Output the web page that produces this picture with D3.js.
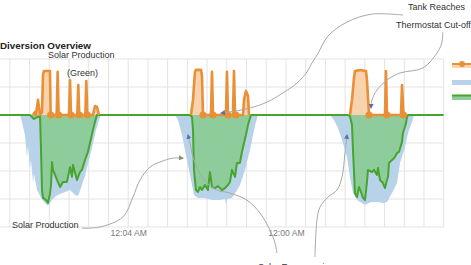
<!DOCTYPE html>
<html lang="en">
<head>
<meta charset="UTF-8">
<title>Diversion Overview</title>
<script src="https://d3js.org/d3.v7.min.js"></script>
<style>
  body { margin: 0; padding: 0; overflow: hidden; background: #fff; }
  text { font-family: "Liberation Sans", Arial, sans-serif; }
</style>
</head>
<body>
<svg id="chart" width="471" height="265"></svg>
<script>
// Data: [hours from first midnight, kW]  (negative = solar production)
const tickHours = [0, 24];
const tickLabels = ["12:04 AM", "12:00 AM"];
const gridHours = d3.range(-18, 49, 3);
const gridValues = [-4, -3, -2, -1, 0, 1, 2];

const blue = [
  [-19.5,0],[-16.46,0],[-16.16,-0.25],[-15.7,-0.71],[-15.4,-1.5],[-15.24,-1.1],[-14.94,-1.9],[-14.79,-1.6],
  [-14.48,-2.4],[-14.33,-2.1],[-13.87,-2.68],[-13.41,-2.89],[-12.81,-3.11],[-12.2,-3.25],[-11.59,-3.04],
  [-10.98,-2.89],[-10.37,-2.82],[-9.61,-2.75],[-8.85,-2.68],[-8.09,-2.86],[-7.63,-2.89],[-7.18,-2.61],
  [-6.57,-2.18],[-6.12,-1.75],[-5.51,-1.18],[-4.9,-0.54],[-4.44,-0.18],[-4.14,0],
  [7.12,0],[7.58,-0.18],[8.19,-0.71],[8.64,-1.25],[9.1,-1.79],[9.55,-2.32],[10.01,-2.86],[10.62,-2.96],
  [11.68,-2.96],[12.75,-3.04],[13.97,-3.04],[14.73,-3.0],[14.88,-3.21],[15.03,-3.0],[15.79,-2.96],
  [16.4,-2.75],[17.0,-2.5],[17.77,-1.96],[18.53,-1.25],[18.99,-0.71],[19.44,-0.25],[19.75,0],
  [30.7,0],[31.31,-0.18],[31.92,-0.46],[32.53,-0.89],[32.98,-1.25],[33.29,-1.5],[33.74,-2.21],[34.2,-2.79],
  [34.81,-3.04],[36.03,-3.21],[36.94,-3.11],[37.85,-3.11],[38.76,-3.14],[39.37,-3.11],[40.14,-2.79],
  [40.9,-2.43],[41.36,-1.71],[42.12,-1.14],[42.58,-0.64],[43.18,-0.25],[43.48,0],[48,0]
];

const green = [
  [-19.5,0],[-14.94,0],[-14.33,-0.14],[-13.72,-0.07],[-13.41,-0.04],[-13.26,-1.25],[-13.11,-2.68],
  [-12.96,-2.96],[-12.5,-3.04],[-12.2,-3.14],[-11.9,-2.82],[-11.74,-2.5],[-11.59,-1.68],[-11.44,-1.96],
  [-10.83,-2.32],[-10.37,-2.57],[-9.92,-2.39],[-9.31,-2.39],[-8.85,-1.86],[-8.55,-2.21],[-8.39,-1.79],
  [-7.79,-2.32],[-7.33,-2.04],[-7.03,-1.96],[-6.57,-1.61],[-6.12,-1.32],[-5.81,-1.0],[-5.36,-0.54],
  [-5.05,-0.25],[-4.75,0],
  [9.4,0],[9.71,-0.07],[9.86,-0.54],[10.01,-1.96],[10.31,-2.68],[10.62,-2.75],[10.92,-2.57],[11.23,-2.68],
  [11.68,-2.5],[12.14,-2.68],[12.44,-2.04],[12.75,-2.57],[13.21,-2.61],[13.66,-2.54],[14.27,-2.68],
  [14.73,-2.61],[15.18,-2.5],[15.49,-2.39],[15.79,-1.96],[16.25,-2.21],[16.55,-1.71],[17.0,-1.71],
  [17.31,-1.32],[17.62,-1.0],[17.92,-0.71],[18.23,-0.36],[18.53,-0.11],[18.68,0],
  [33.44,0],[33.74,-0.04],[34.05,-0.36],[34.2,-1.25],[34.5,-2.79],[34.81,-2.93],[35.11,-2.57],[35.42,-2.75],
  [35.72,-2.96],[36.03,-3.04],[36.33,-2.39],[36.48,-1.96],[37.09,-2.04],[37.4,-1.96],[37.85,-2.14],
  [38.0,-1.89],[38.31,-2.32],[38.76,-2.43],[39.07,-2.61],[39.37,-2.32],[39.53,-2.21],[39.68,-1.71],
  [40.14,-1.61],[40.59,-1.5],[40.9,-1.36],[41.2,-1.32],[41.66,-0.96],[41.81,-0.64],[42.27,-0.29],
  [42.42,-0.07],[42.58,0],[48,0]
];

const orangeDay1 = [
  [-14.48,0],[-14.18,0.11],[-14.03,0],[-13.72,0.54],[-13.41,0],[-13.11,0.11],[-12.96,1.43],[-12.81,1.57],
  [-11.9,1.57],[-11.79,0],[-10.88,0],[-10.73,1.54],[-10.58,0],[-9.0,0],[-8.85,1.25],[-8.7,0],
  [-7.74,0],[-7.59,1.07],[-7.44,0],[-6.52,0],[-6.37,1.21],[-6.22,0],[-5.36,0],[-5.05,0.32],
  [-4.75,0.29],[-4.44,0]
];
const orangeDay2 = [
  [9.55,0],[9.86,0.54],[10.16,1.54],[10.31,1.61],[11.08,1.61],[11.23,1.39],[11.38,0],[12.6,0],
  [12.75,1.54],[12.9,0],[14.88,0],[15.03,1.54],[15.18,0],[15.94,0],[16.1,1.57],[16.25,0],[16.37,0],
  [17.47,0],[17.62,0.54],[17.92,0.86],[18.23,0.68],[18.38,0]
];
const orangeDay3 = [
  [33.74,0],[34.05,0.54],[34.35,1.32],[34.5,1.57],[35.27,1.61],[36.18,1.57],[36.33,1.25],[36.64,0],
  [39.07,0],[39.22,1.57],[39.37,0],[41.5,0],[41.66,1.07],[41.88,0]
];
const orangeMarkers = [-11.79, -10.58, -8.7, -7.44, -6.22, 11.38, 12.9, 15.18, 16.37, 36.64, 39.37, 41.88];

// callout notes drawn over the chart (chart units)
const calloutLabels = [
  { text: "Solar Production", h: -12.2, v: 2.04 },
  { text: "(Green)", h: -9.31, v: 1.39 },
  { text: "Solar Production", h: -17.68, v: -4.04 },
  { text: "Tank Reaches", h: 42.57, v: 3.75 },
  { text: "Thermostat Cut-off", h: 40.74, v: 3.11 },
  { text: "Solar Energy going", h: 19.75, v: -5.54 }
];
const calloutLines = [
  { arrow: "g", pts: [[-7.03,-4.04],[-4.29,-4.0],[-0.79,-3.64],[0.73,-2.93],[1.8,-2.32],[3.32,-1.86],[4.84,-1.68],[6.82,-1.54],[8.34,-1.54]] },
  { arrow: "b", pts: [[22.64,-4.93],[22.33,-4.57],[21.57,-4.11],[20.05,-3.5],[18.07,-3.04],[15.49,-2.79],[13.51,-2.68],[11.99,-2.43],[10.62,-1.96],[9.86,-1.5],[9.4,-1.0],[9.1,-0.71]] },
  { arrow: "b", pts: [[28.42,-5.07],[28.72,-3.75],[29.18,-3.29],[30.4,-2.93],[31.77,-2.68],[32.53,-2.21],[32.98,-1.36],[33.29,-0.71]] },
  { arrow: "b", pts: [[41.81,3.57],[37.0,3.6],[33.3,3.32],[30.4,2.82],[28.9,2.21],[27.96,1.86],[27.2,1.54],[25.68,1.14],[23.55,0.79],[21.12,0.46],[18.53,0.25],[16.25,0.14],[14.12,0.07]] },
  { arrow: "b", pts: [[47.86,2.96],[47.7,2.57],[46.97,2.21],[44.84,1.68],[41.35,1.5],[39.37,1.25],[37.85,0.89],[37.09,0.54],[36.94,0.25]] }
];

// Colours
const cOrange = "#e98f36", cOrangeFill = "#f9d2ae";
const cBlueFill = "#b8d3e9";
const cGreen = "#47a42c", cGreenFill = "#8fcc9c";

const svg = d3.select("#chart");
const x = d3.scaleLinear().domain([-19.5, 48]).range([0, 443.7]);
const y = d3.scaleLinear().domain([-4, 2]).range([227, 59]);

// arrow heads
const defs = svg.append("defs");
[["g", "#7f9470"], ["b", "#5a6ea8"]].forEach(([id, col]) => {
  defs.append("marker")
    .attr("id", "arrow-" + id)
    .attr("viewBox", "0 0 10 10")
    .attr("refX", 8).attr("refY", 5)
    .attr("markerWidth", 5).attr("markerHeight", 5)
    .attr("markerUnits", "userSpaceOnUse")
    .attr("orient", "auto")
    .append("path").attr("d", "M0,0L10,5L0,10Z").attr("fill", col);
});

// grid
const grid = svg.append("g").attr("stroke", "#e3e3e3").attr("stroke-width", 1);
grid.selectAll(".gv").data(gridHours).join("line")
  .attr("x1", d => x(d)).attr("x2", d => x(d))
  .attr("y1", y(2)).attr("y2", y(-4));
grid.selectAll(".gh").data(gridValues).join("line")
  .attr("x1", 0).attr("x2", x(48))
  .attr("y1", d => y(d)).attr("y2", d => y(d));

// x axis labels
const xAxis = d3.axisBottom(x)
  .tickValues(tickHours)
  .tickFormat((d, i) => tickLabels[i])
  .tickSize(0).tickPadding(3);
const ax = svg.append("g").attr("transform", `translate(0,${y(-4)})`).call(xAxis);
ax.select(".domain").remove();
ax.selectAll("text").attr("fill", "#7a7a7a").attr("font-size", 8.6)
  .attr("font-family", "Liberation Sans, Arial, sans-serif");

const area = d3.area().x(d => x(d[0])).y0(y(0)).y1(d => y(d[1]));
const line = d3.line().x(d => x(d[0])).y(d => y(d[1]));

svg.append("path").datum(blue).attr("d", area).attr("fill", cBlueFill);
svg.append("path").datum(green).attr("d", area).attr("fill", cGreenFill);

const orangeDays = [orangeDay1, orangeDay2, orangeDay3];
svg.append("g").selectAll("path").data(orangeDays).join("path")
  .attr("d", area).attr("fill", cOrangeFill);

svg.append("path").datum(green).attr("d", line)
  .attr("fill", "none").attr("stroke", cGreen).attr("stroke-width", 2)
  .attr("stroke-linejoin", "round");

svg.append("g").selectAll("path").data(orangeDays).join("path")
  .attr("d", line).attr("fill", "none").attr("stroke", cOrange)
  .attr("stroke-width", 2.6).attr("stroke-linejoin", "round");

svg.append("g").selectAll("circle").data(orangeMarkers).join("circle")
  .attr("cx", d => x(d)).attr("cy", y(0)).attr("r", 3.6).attr("fill", cOrange);

// legend (cut at right edge)
const lg = svg.append("g").attr("transform", "translate(452,0)");
lg.append("rect").attr("x", 0).attr("y", 63).attr("width", 22).attr("height", 5).attr("fill", cOrangeFill);
lg.append("line").attr("x1", 0).attr("x2", 22).attr("y1", 64).attr("y2", 64).attr("stroke", cOrange).attr("stroke-width", 2);
lg.append("circle").attr("cx", 10).attr("cy", 64).attr("r", 3).attr("fill", cOrange);
lg.append("rect").attr("x", 0).attr("y", 80).attr("width", 22).attr("height", 5).attr("fill", cBlueFill);
lg.append("rect").attr("x", 0).attr("y", 95).attr("width", 22).attr("height", 5).attr("fill", cGreenFill);
lg.append("line").attr("x1", 0).attr("x2", 22).attr("y1", 95.5).attr("y2", 95.5).attr("stroke", cGreen).attr("stroke-width", 2);

// title
svg.append("text").attr("x", 0).attr("y", 49)
  .attr("font-size", 9.8).attr("font-weight", "bold").attr("fill", "#222")
  .text("Diversion Overview");

// callouts
const cline = d3.line().x(d => x(d[0])).y(d => y(d[1])).curve(d3.curveCatmullRom);
svg.append("g").selectAll("path").data(calloutLines).join("path")
  .attr("d", d => cline(d.pts))
  .attr("fill", "none").attr("stroke", "#a8a8a8").attr("stroke-width", 1)
  .attr("marker-end", d => `url(#arrow-${d.arrow})`);

svg.append("g").selectAll("text").data(calloutLabels).join("text")
  .attr("x", d => x(d.h)).attr("y", d => y(d.v))
  .attr("font-size", 9).attr("fill", "#333")
  .text(d => d.text);
</script>
</body>
</html>
